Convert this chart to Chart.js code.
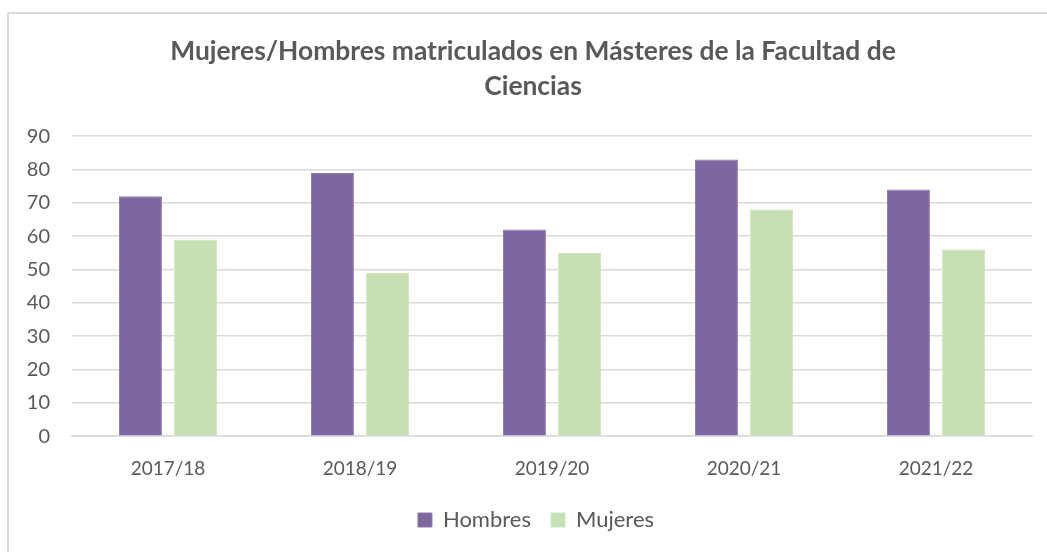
<!DOCTYPE html>
<html>
<head>
<meta charset="utf-8">
<script src="https://cdn.jsdelivr.net/npm/chart.js@4"></script>
<style>
  html, body { margin: 0; padding: 0; background: #fff; }
  #wrap { position: relative; width: 1047px; height: 552px; overflow: hidden; }
  #frame { position: absolute; left: 7px; top: 12px; width: 1100px; height: 600px;
           border-left: 2px solid #D9D9D9; border-top: 2px solid #D9D9D9; box-sizing: border-box; }
  #c { position: absolute; left: 0; top: 0; }
</style>
</head>
<body>
<div id="wrap">
  <div id="frame"></div>
  <canvas id="c" width="1047" height="552"></canvas>
</div>
<script>
const categories = ["2017/18", "2018/19", "2019/20", "2020/21", "2021/22"];
const hombres = [72, 79, 62, 83, 74];
const mujeres = [59, 49, 55, 68, 56];
const seriesNames = ["Hombres", "Mujeres"];
const titleLines = ["Mujeres/Hombres matriculados en Másteres de la Facultad de", "Ciencias"];
const yMin = 0, yMax = 90, yStep = 10;

const textColor = "#595959";
const fontFamily = "Lato, 'Open Sans', sans-serif";

// shifts the title and legend boxes sideways so they are centred on the frame
const shiftBoxes = {
  id: "shiftBoxes",
  afterLayout(chart) {
    const t = chart.titleBlock, l = chart.legend;
    if (t) { t.left += 17; t.right += 17; }
    if (l) { l.left += 20; l.right += 20; }
  }
};

new Chart(document.getElementById("c"), {
  type: "bar",
  data: {
    labels: categories,
    datasets: [
      { label: seriesNames[0], data: hombres, backgroundColor: "#7E66A0", borderColor: "#8E78AC", borderWidth: 1,
        categoryPercentage: 0.574, barPercentage: 0.78 },
      { label: seriesNames[1], data: mujeres, backgroundColor: "#C6E0B4", borderColor: "#CFE6BF", borderWidth: 1,
        categoryPercentage: 0.574, barPercentage: 0.78 }
    ]
  },
  plugins: [shiftBoxes],
  options: {
    responsive: false,
    animation: false,
    devicePixelRatio: 1,
    layout: { padding: { left: 0, right: 15, top: 34, bottom: 11 } },
    plugins: {
      title: {
        display: true,
        text: titleLines,
        color: textColor,
        font: { family: fontFamily, size: 26.4, weight: "bold", lineHeight: 1.33 },
        padding: { top: 0, bottom: 32 }
      },
      legend: {
        display: true,
        position: "bottom",
        labels: {
          color: textColor,
          font: { family: fontFamily, size: 22 },
          boxWidth: 14, boxHeight: 14,
          padding: 20
        }
      },
      tooltip: { enabled: false }
    },
    scales: {
      x: {
        afterFit: (s) => { s.height -= 4; },
        grid: { display: false },
        border: { display: true, color: "#D9D9D9", width: 1.5 },
        ticks: { color: textColor, font: { family: fontFamily, size: 19 }, padding: 13 }
      },
      y: {
        min: yMin, max: yMax,
        afterFit: (s) => { s.width = 72; },
        grid: { color: "#D9D9D9", lineWidth: 1.5, drawTicks: false },
        border: { display: false },
        ticks: { stepSize: yStep, color: textColor, font: { family: fontFamily, size: 20 }, padding: 22 }
      }
    }
  }
});
</script>
</body>
</html>
